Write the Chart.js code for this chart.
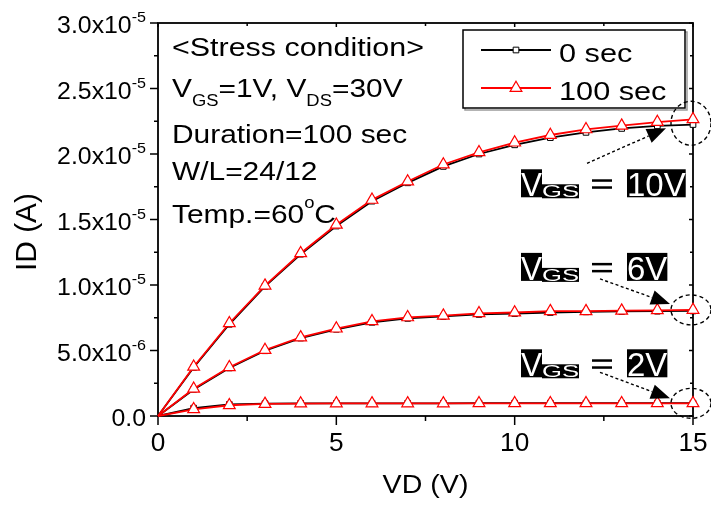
<!DOCTYPE html>
<html>
<head>
<meta charset="utf-8">
<script src="https://cdn.jsdelivr.net/npm/chart.js@4/dist/chart.umd.min.js"></script>
<style>
  html, body { margin: 0; padding: 0; background: #fff; }
</style>
</head>
<body>
<canvas id="c" width="711" height="508"></canvas>
<script>
// ---- data (ID in A, VD in V) ----
const VD = [0, 1, 2, 3, 4, 5, 6, 7, 8, 9, 10, 11, 12, 13, 14, 15];

const id0_10V   = [0, 3.70e-6, 7.00e-6, 9.90e-6, 1.235e-5, 1.45e-5, 1.64e-5, 1.78e-5, 1.905e-5, 2.00e-5, 2.07e-5, 2.125e-5, 2.165e-5, 2.195e-5, 2.215e-5, 2.225e-5];
const id100_10V = [0, 3.76e-6, 7.08e-6, 9.95e-6, 1.242e-5, 1.46e-5, 1.65e-5, 1.79e-5, 1.92e-5, 2.013e-5, 2.087e-5, 2.145e-5, 2.188e-5, 2.216e-5, 2.244e-5, 2.265e-5];
const id0_6V    = [0, 2.03e-6, 3.67e-6, 4.98e-6, 5.95e-6, 6.62e-6, 7.15e-6, 7.45e-6, 7.60e-6, 7.75e-6, 7.82e-6, 7.90e-6, 7.95e-6, 7.98e-6, 8.00e-6, 8.02e-6];
const id100_6V  = [0, 2.08e-6, 3.72e-6, 5.04e-6, 6.00e-6, 6.67e-6, 7.23e-6, 7.53e-6, 7.66e-6, 7.84e-6, 7.90e-6, 8.00e-6, 8.00e-6, 8.04e-6, 8.07e-6, 8.10e-6];
const id0_2V    = [0, 6.0e-7, 8.8e-7, 9.4e-7, 9.7e-7, 9.7e-7, 9.7e-7, 9.7e-7, 9.7e-7, 9.8e-7, 9.8e-7, 9.8e-7, 9.8e-7, 9.8e-7, 9.8e-7, 9.8e-7];
const id100_2V  = [0, 5.1e-7, 8.2e-7, 9.2e-7, 9.5e-7, 9.6e-7, 9.6e-7, 9.6e-7, 9.6e-7, 9.7e-7, 9.7e-7, 9.7e-7, 9.7e-7, 9.7e-7, 9.7e-7, 9.7e-7];

const xMajor = [0, 5, 10, 15];
const xMinor = [2.5, 7.5, 12.5];
const yMajor = [0, 5e-6, 1e-5, 1.5e-5, 2e-5, 2.5e-5, 3e-5];
const yMinor = [2.5e-6, 7.5e-6, 1.25e-5, 1.75e-5, 2.25e-5, 2.75e-5];
const yMantissa = ["0.0", "5.0x10", "1.0x10", "1.5x10", "2.0x10", "2.5x10", "3.0x10"];
const yExponent = ["", "-6", "-5", "-5", "-5", "-5", "-5"];

const seriesNames = ["0 sec", "100 sec"];
const gateLabels = ["10V", "6V", "2V"];

const FONT = '"Liberation Sans", Arial, sans-serif';
const SX = 1.15; // the figure's lettering is a bit wide

function txt(ctx, s, x, y, size, align = "left", sx = SX, color = "#000") {
  ctx.save();
  ctx.font = `${size}px ${FONT}`;
  ctx.fillStyle = color;
  ctx.textBaseline = "alphabetic";
  ctx.textAlign = "left";
  const w = ctx.measureText(s).width * sx;
  const x0 = align === "right" ? x - w : align === "center" ? x - w / 2 : x;
  ctx.translate(x0, y);
  ctx.scale(sx, 1);
  ctx.fillText(s, 0, 0);
  ctx.restore();
  return w;
}

// white text squeezed/stretched into a black block
function block(ctx, s, x, top, w, h, size) {
  ctx.save();
  ctx.fillStyle = "#000";
  ctx.fillRect(x, top, w, h);
  ctx.font = `${size}px ${FONT}`;
  const tw = ctx.measureText(s).width;
  ctx.translate(x, top + h - 1);
  ctx.scale(w / tw, 1);
  ctx.fillStyle = "#fff";
  ctx.textBaseline = "alphabetic";
  ctx.fillText(s, 0, 0);
  ctx.restore();
}

function line(ctx, x1, y1, x2, y2) {
  ctx.beginPath(); ctx.moveTo(x1, y1); ctx.lineTo(x2, y2); ctx.stroke();
}

const red = "#ff0000";
const blackStyle = { pointStyle: "rect", radius: 4, rotation: 0, borderWidth: 1 };
const redStyle = { pointStyle: "triangle", radius: 6.8, rotation: 0, borderWidth: 1.2 };

function ds(data, isRed) {
  const st = isRed ? redStyle : blackStyle;
  return {
    data: VD.map((x, i) => ({ x, y: data[i] })),
    borderColor: isRed ? red : "#000",
    borderWidth: 1.8,
    backgroundColor: "#fff",
    pointStyle: st.pointStyle,
    pointRadius: (c) => (c.dataIndex === 0 ? 0 : st.radius),
    pointBorderWidth: st.borderWidth,
    pointBorderColor: isRed ? red : "#000",
    pointBackgroundColor: "#fff",
    order: isRed ? 0 : 1,
    clip: 12,
  };
}

const axesPlugin = {
  id: "axesPlugin",
  beforeDatasetsDraw(chart) {
    const { ctx, chartArea: a, scales: { x, y } } = chart;
    ctx.save();
    ctx.strokeStyle = "#000";
    ctx.lineWidth = 1.8;
    ctx.strokeRect(a.left, a.top, a.right - a.left, a.bottom - a.top);
    ctx.lineWidth = 1.5;
    for (const v of xMajor) {
      const p = x.getPixelForValue(v);
      line(ctx, p, a.bottom, p, a.bottom + 9);
      line(ctx, p, a.top, p, a.top + 4);
    }
    for (const v of xMinor) {
      const p = x.getPixelForValue(v);
      line(ctx, p, a.bottom, p, a.bottom + 5);
      line(ctx, p, a.top, p, a.top + 3);
    }
    for (const v of yMajor) {
      const p = y.getPixelForValue(v);
      line(ctx, a.left - 8, p, a.left, p);
      line(ctx, a.right - 4, p, a.right, p);
    }
    for (const v of yMinor) {
      const p = y.getPixelForValue(v);
      line(ctx, a.left - 4, p, a.left, p);
      line(ctx, a.right - 3, p, a.right, p);
    }
    ctx.restore();

    // tick labels
    xMajor.forEach((v) => txt(ctx, String(v), x.getPixelForValue(v), a.bottom + 35, 25, "center", 1.05));
    yMajor.forEach((v, i) => {
      const p = y.getPixelForValue(v);
      let right = a.left - 12;
      if (yExponent[i]) right -= txt(ctx, yExponent[i], right, p - 1, 14, "right", 1.15);
      txt(ctx, yMantissa[i], right, p + 10, 23, "right", 1.08);
    });

    // axis titles
    txt(ctx, "VD (V)", (a.left + a.right) / 2, 493, 26, "center", 1.1);
    ctx.save();
    ctx.translate(36, 232);
    ctx.rotate(-Math.PI / 2);
    txt(ctx, "ID (A)", 0, 0, 29, "center", 1.03);
    ctx.restore();
  },
  afterDraw(chart) {
    const { ctx, chartArea: a, scales: { x, y } } = chart;

    // stress-condition text
    const L = a.left + 14;
    txt(ctx, "<Stress condition>", L, 56, 26, "left", 1.17);
    let cx = L;
    cx += txt(ctx, "V", cx, 96.5, 26);
    cx += txt(ctx, "GS", cx, 106, 16);
    cx += txt(ctx, "=1V, V", cx, 96.5, 26);
    cx += txt(ctx, "DS", cx, 106, 16);
    txt(ctx, "=30V", cx, 96.5, 26);
    txt(ctx, "Duration=100 sec", L, 142.5, 26);
    txt(ctx, "W/L=24/12", L, 180, 26);
    cx = L + txt(ctx, "Temp.=60", L, 223, 26);
    cx += txt(ctx, "o", cx, 208, 16);
    txt(ctx, "C", cx, 223, 26);

    // legend
    ctx.save();
    const lx = 463, ly = 30, lw = 222, lh = 78;
    ctx.strokeStyle = "#9a9a9a"; ctx.lineWidth = 1.5;
    ctx.strokeRect(lx + 2, ly + 2, lw, lh);
    ctx.fillStyle = "#fff"; ctx.fillRect(lx, ly, lw, lh);
    ctx.strokeStyle = "#000"; ctx.lineWidth = 1.5;
    ctx.strokeRect(lx, ly, lw, lh);
    [[50, "#000", blackStyle], [88, red, redStyle]].forEach(([yy, col, st], i) => {
      ctx.strokeStyle = col; ctx.lineWidth = 1.8;
      line(ctx, 481, yy, 551, yy);
      ctx.fillStyle = "#fff"; ctx.lineWidth = st.borderWidth;
      Chart.helpers.drawPoint(ctx, st, 516, yy);
      txt(ctx, seriesNames[i], 559, yy + 12, 26, "left", 1.18);
    });
    ctx.restore();

    // V_GS callouts, anchored on the last point of each 100 sec curve
    const ends = [id100_10V, id100_6V, id100_2V];
    const geo = [
      { top: 50, ox: -2, oy: 4, ry: 22, s: [-106, 44], t: [-27, 9] },
      { top: -57, ox: -2, oy: 0, ry: 15, s: [-93, -31], t: [-23, -6] },
      { top: -54, ox: -2, oy: 0, ry: 15, s: [-93, -31], t: [-23, -5] },
    ];
    ends.forEach((arr, i) => {
      const px = x.getPixelForValue(VD[VD.length - 1]);
      const py = y.getPixelForValue(arr[arr.length - 1]);
      const g = geo[i];
      const T = py + g.top;
      block(ctx, "V", 521, T, 21, 28, 33);
      block(ctx, "GS", 542, T + 15, 37, 14, 17);
      ctx.save();
      ctx.fillStyle = "#000";
      ctx.fillRect(592, T + 10, 20, 2.5);
      ctx.fillRect(592, T + 17, 20, 2.5);
      ctx.restore();
      ctx.save();
      ctx.font = `33px ${FONT}`;
      const vw = ctx.measureText(gateLabels[i]).width;
      ctx.restore();
      block(ctx, gateLabels[i], 627, T, vw, 28, 33);

      ctx.save();
      ctx.strokeStyle = "#000"; ctx.lineWidth = 1.4;
      ctx.setLineDash([4, 3]);
      ctx.beginPath();
      ctx.ellipse(px + g.ox, py + g.oy, 20, g.ry, 0, 0, Math.PI * 2);
      ctx.stroke();
      const sx0 = px + g.s[0], sy0 = py + g.s[1], tx = px + g.t[0], ty = py + g.t[1];
      const ang = Math.atan2(ty - sy0, tx - sx0), hl = 19, hw = 7.5;
      const bx = tx - hl * Math.cos(ang), by = ty - hl * Math.sin(ang);
      ctx.setLineDash([3, 2.5]);
      line(ctx, sx0, sy0, bx, by);
      ctx.setLineDash([]);
      ctx.fillStyle = "#000";
      ctx.beginPath();
      ctx.moveTo(tx, ty);
      ctx.lineTo(bx + hw * Math.sin(ang), by - hw * Math.cos(ang));
      ctx.lineTo(bx - hw * Math.sin(ang), by + hw * Math.cos(ang));
      ctx.closePath();
      ctx.fill();
      ctx.restore();
    });
  },
};

new Chart(document.getElementById("c"), {
  type: "line",
  data: {
    datasets: [
      ds(id0_10V, false), ds(id0_6V, false), ds(id0_2V, false),
      ds(id100_10V, true), ds(id100_6V, true), ds(id100_2V, true),
    ],
  },
  options: {
    responsive: false,
    animation: false,
    devicePixelRatio: 1,
    layout: { padding: { left: 158, top: 23, right: 18, bottom: 92 } },
    plugins: { legend: { display: false }, tooltip: { enabled: false } },
    elements: { line: { tension: 0 } },
    scales: {
      x: { type: "linear", min: 0, max: 15, display: false },
      y: { type: "linear", min: 0, max: 3e-5, display: false },
    },
  },
  plugins: [axesPlugin],
});
</script>
</body>
</html>
